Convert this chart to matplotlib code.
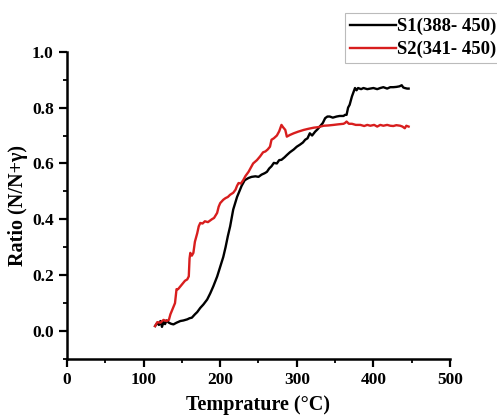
import numpy as np
import matplotlib
matplotlib.use('Agg')
import matplotlib.pyplot as plt
from matplotlib.ticker import MultipleLocator

plt.rcParams['font.family'] = ['Liberation Serif', 'DejaVu Serif']
plt.rcParams['font.weight'] = 'bold'

# S1 (black)
s1_temp = [115, 118, 120, 122, 124, 126, 128, 130, 133, 136, 139, 143, 148, 152, 157, 160, 163, 167,
           170, 174, 178, 183, 187, 191, 196, 200, 204, 207, 210, 213, 217, 222, 225, 228, 232, 237,
           241, 246, 250, 254, 258, 261, 264, 267, 270, 274, 277, 280, 284, 287, 291, 296, 300, 304,
           308, 311, 314, 317, 320, 324, 327, 330, 334, 337, 340, 343, 347, 352, 356, 361, 363, 365,
           367, 369, 372, 374, 376, 378, 380, 384, 387, 392, 396, 400, 405, 409, 413, 418, 422, 426,
           430, 434, 437, 439, 441, 444, 446]
s1_ratio = [0.018, 0.030, 0.022, 0.036, 0.015, 0.033, 0.025, 0.038, 0.030, 0.026, 0.024, 0.030, 0.036,
            0.038, 0.042, 0.046, 0.048, 0.060, 0.068, 0.083, 0.095, 0.113, 0.135, 0.160, 0.195, 0.230,
            0.265, 0.300, 0.340, 0.375, 0.435, 0.480, 0.500, 0.520, 0.540, 0.548, 0.552, 0.554, 0.552,
            0.560, 0.565, 0.570, 0.582, 0.590, 0.602, 0.600, 0.612, 0.613, 0.622, 0.630, 0.640, 0.650,
            0.660, 0.667, 0.675, 0.685, 0.690, 0.708, 0.700, 0.714, 0.722, 0.732, 0.745, 0.762, 0.768,
            0.768, 0.764, 0.768, 0.770, 0.770, 0.774, 0.774, 0.800, 0.810, 0.840, 0.855, 0.870, 0.862,
            0.870, 0.866, 0.870, 0.866, 0.868, 0.870, 0.866, 0.870, 0.873, 0.868, 0.873, 0.873, 0.874,
            0.876, 0.880, 0.872, 0.870, 0.868, 0.868]

# S2 (red)
s2_temp = [115, 118, 122, 126, 130, 133, 135, 138, 141, 143, 145, 148, 151, 154, 157, 159, 160, 161,
           163, 165, 167, 170, 172, 174, 177, 180, 184, 189, 192, 196, 198, 200, 204, 207, 210, 213,
           217, 220, 222, 224, 227, 230, 233, 237, 240, 243, 248, 252, 256, 259, 262, 265, 267, 270,
           274, 277, 280, 282, 285, 287, 291, 296, 302, 309, 315, 322, 328, 335, 341, 348, 354, 361,
           363, 365, 368, 372, 377, 383, 388, 392, 396, 401, 405, 409, 413, 418, 422, 426, 430, 435,
           438, 441, 443, 446]
s2_ratio = [0.018, 0.032, 0.030, 0.040, 0.036, 0.040, 0.060, 0.080, 0.100, 0.150, 0.150, 0.160, 0.170,
            0.180, 0.185, 0.196, 0.260, 0.280, 0.270, 0.280, 0.320, 0.350, 0.375, 0.387, 0.385, 0.393,
            0.390, 0.400, 0.405, 0.423, 0.445, 0.458, 0.470, 0.476, 0.480, 0.488, 0.495, 0.506, 0.520,
            0.530, 0.528, 0.540, 0.555, 0.570, 0.585, 0.600, 0.612, 0.625, 0.640, 0.643, 0.650, 0.660,
            0.685, 0.690, 0.700, 0.715, 0.738, 0.730, 0.720, 0.696, 0.702, 0.708, 0.714, 0.720, 0.724,
            0.728, 0.730, 0.735, 0.736, 0.738, 0.740, 0.742, 0.745, 0.750, 0.742, 0.742, 0.738, 0.738,
            0.734, 0.738, 0.735, 0.738, 0.732, 0.738, 0.735, 0.738, 0.735, 0.734, 0.737, 0.735, 0.732,
            0.726, 0.735, 0.732]

labels = ['S1(388- 450)', 'S2(341- 450)']

fig = plt.figure(figsize=(4.97, 4.18), dpi=100)
ax = fig.add_axes([0.1348, 0.1411, 0.7706, 0.7352])

ax.plot(s1_temp, s1_ratio, color='black', lw=1.7, label=labels[0])
ax.plot(s2_temp, s2_ratio, color='#d81e1e', lw=1.7, label=labels[1])

ax.set_xlim(0, 500)
ax.set_ylim(-0.1, 1.0)
ax.xaxis.set_major_locator(MultipleLocator(100))
ax.xaxis.set_minor_locator(MultipleLocator(50))
ax.set_yticks([0.0, 0.2, 0.4, 0.6, 0.8, 1.0])
ax.yaxis.set_minor_locator(MultipleLocator(0.1))
ax.set_yticklabels(['0.0', '0.2', '0.4', '0.6', '0.8', '1.0'])

for s in ['top', 'right']:
    ax.spines[s].set_visible(False)
for s in ['left', 'bottom']:
    ax.spines[s].set_linewidth(1.8)

ax.tick_params(which='major', direction='out', length=6, width=1.6, labelsize=12.5)
ax.tick_params(which='minor', direction='out', length=3, width=1.3)

ax.set_xlabel('Temprature (°C)', fontsize=14.5, fontweight='bold', labelpad=5)
ax.set_ylabel('Ratio (N/N+γ)', fontsize=14.5, fontweight='bold', labelpad=3)

leg = fig.legend(loc='lower left', bbox_to_anchor=(345 / 497, 1.0 - 63 / 418),
                 fontsize=13.5, frameon=True, fancybox=False, handlelength=2.45,
                 handletextpad=0.05, borderpad=0.25, labelspacing=0.3, borderaxespad=0)
leg.get_frame().set_edgecolor('#aaaaaa')
leg.get_frame().set_linewidth(0.8)

fig.savefig('out.png', dpi=100)
